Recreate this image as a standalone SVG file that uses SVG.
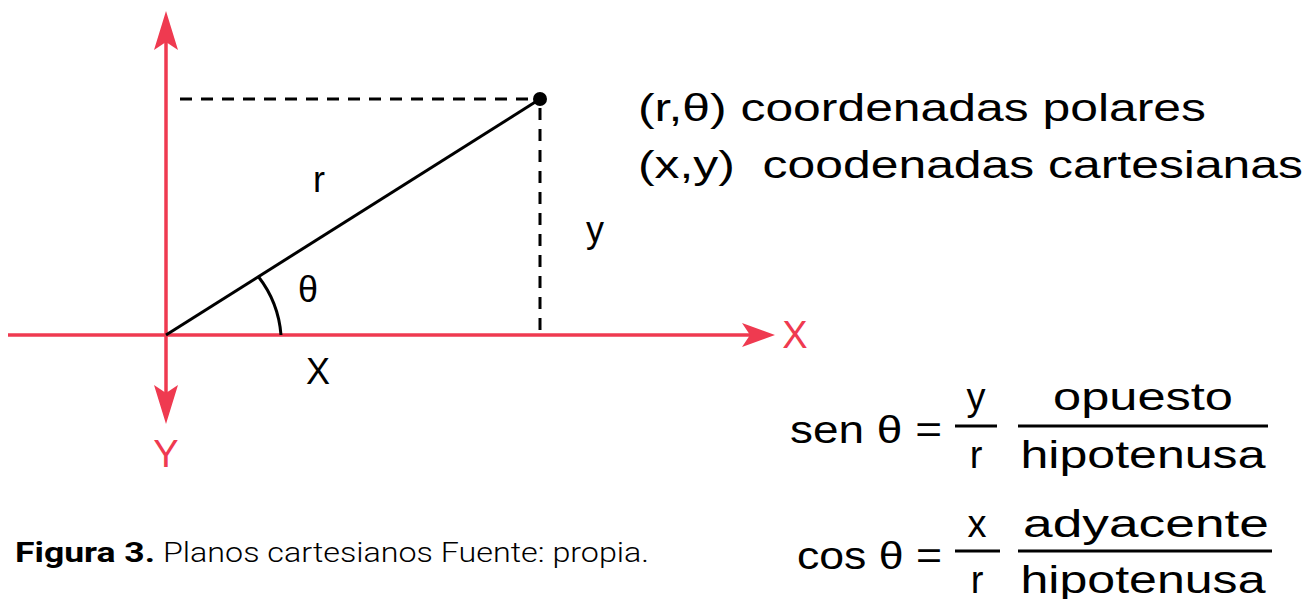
<svg xmlns="http://www.w3.org/2000/svg" width="1309" height="599" viewBox="0 0 1309 599">
<style>
.axis{stroke:#EF3A50;stroke-width:3.5;fill:none}
.ah{fill:#EF3A50}
.blk{stroke:#000;stroke-width:3;fill:none}
.dash{stroke:#000;stroke-width:3;stroke-dasharray:12,9;fill:none}
text{font-family:"Liberation Sans",Arial,sans-serif;fill:#000}
.red{fill:#EF3A50}
.t38{font-size:38px}
.cap{font-family:Roboto,"Liberation Sans",sans-serif;font-size:28px}
</style>
<rect width="1309" height="599" fill="#fff"/>
<g id="connectors">
<line class="axis" x1="166" y1="40" x2="166" y2="395"/>
<line class="axis" x1="8" y1="335" x2="750" y2="335"/>
<path class="ah" d="M166,11 L178,50 L166,42 L154,50 Z"/>
<path class="ah" d="M166,424 L154,385 L166,393 L178,385 Z"/>
<path class="ah" d="M775,335 L742,323 L750,335 L742,347 Z"/>
<line class="blk" x1="166" y1="335" x2="540" y2="99"/>
<line class="dash" x1="180" y1="99" x2="540" y2="99"/>
<line class="dash" x1="540" y1="108" x2="540" y2="335"/>
<path class="blk" d="M258.3,276.5 A109,109 0 0 1 281,335"/>
</g>
<g id="point"><circle cx="540" cy="99" r="7" fill="#000"/></g>
<g id="labels">
<text class="red" x="795" y="348" font-size="38" text-anchor="middle">X</text>
<text class="red" x="166" y="467" font-size="38" text-anchor="middle">Y</text>
<text x="319" y="192" font-size="36" text-anchor="middle">r</text>
<text x="595" y="242" font-size="36" text-anchor="middle">y</text>
<text x="308" y="302" font-size="36" text-anchor="middle">θ</text>
<text x="318" y="384" font-size="36" text-anchor="middle">X</text>
</g>
<g id="legend">
<text class="t38" x="638" y="121" textLength="568" lengthAdjust="spacingAndGlyphs">(r,θ) coordenadas polares</text>
<text class="t38" x="638" y="178" textLength="665" lengthAdjust="spacingAndGlyphs" xml:space="preserve">(x,y)  coodenadas cartesianas</text>
</g>
<g id="sen">
<text class="t38" x="790" y="443" textLength="152" lengthAdjust="spacingAndGlyphs">sen θ =</text>
<line class="blk" x1="955" y1="426" x2="997" y2="426"/>
<text class="t38" x="976" y="410" text-anchor="middle">y</text>
<text class="t38" x="976" y="468" text-anchor="middle">r</text>
<line class="blk" x1="1018" y1="426" x2="1268" y2="426"/>
<text class="t38" x="1143" y="410" text-anchor="middle" textLength="180" lengthAdjust="spacingAndGlyphs">opuesto</text>
<text class="t38" x="1143" y="468" text-anchor="middle" textLength="245" lengthAdjust="spacingAndGlyphs">hipotenusa</text>
</g>
<g id="cos">
<text class="t38" x="797" y="569" textLength="145" lengthAdjust="spacingAndGlyphs">cos θ =</text>
<line class="blk" x1="955" y1="551" x2="1000" y2="551"/>
<text class="t38" x="977" y="537" text-anchor="middle">x</text>
<text class="t38" x="977" y="593" text-anchor="middle">r</text>
<line class="blk" x1="1018" y1="551" x2="1272" y2="551"/>
<text class="t38" x="1146" y="537" text-anchor="middle" textLength="246" lengthAdjust="spacingAndGlyphs">adyacente</text>
<text class="t38" x="1143" y="593" text-anchor="middle" textLength="245" lengthAdjust="spacingAndGlyphs">hipotenusa</text>
</g>
<g id="caption">
<text class="cap" x="15" y="562"><tspan font-weight="bold" textLength="140" lengthAdjust="spacingAndGlyphs">Figura 3.</tspan><tspan font-weight="300" dx="8" textLength="486" lengthAdjust="spacingAndGlyphs">Planos cartesianos Fuente: propia.</tspan></text>
</g>
</svg>
